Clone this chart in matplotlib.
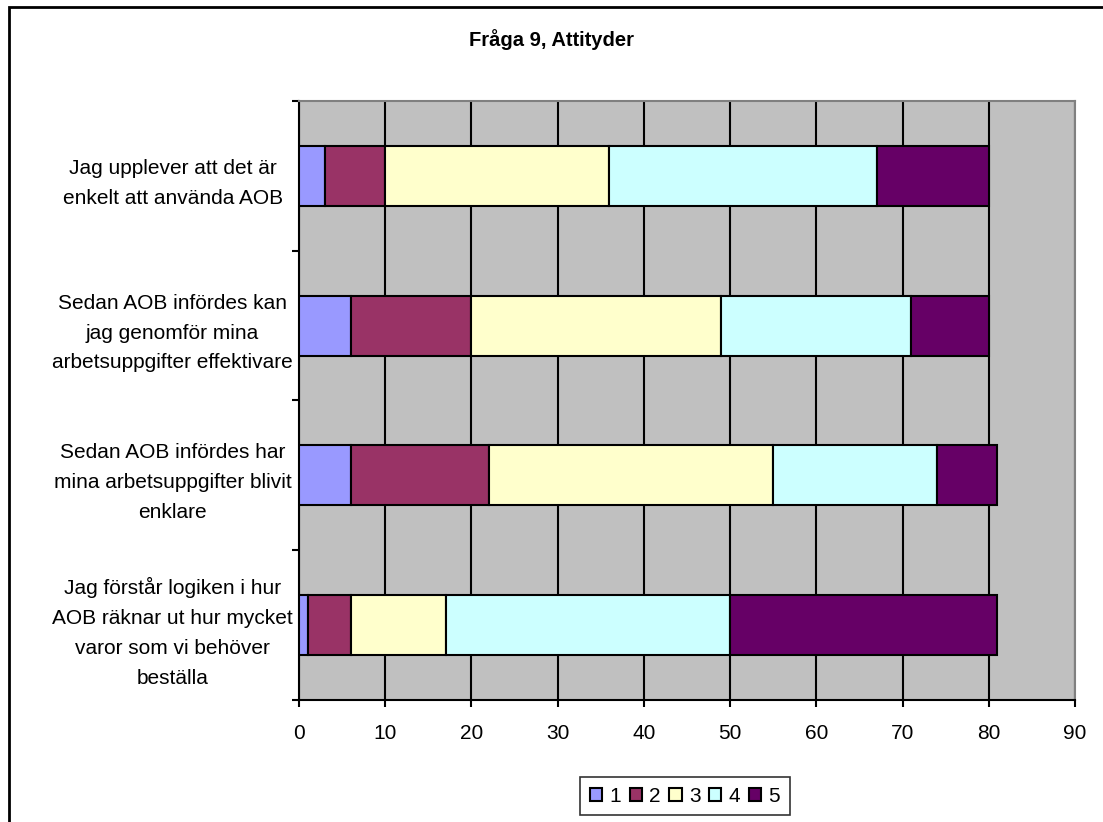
import matplotlib.pyplot as plt
from matplotlib.patches import Rectangle
import numpy as np

plt.rcParams['font.family'] = ['Liberation Sans', 'DejaVu Sans']

categories = [
    'Jag upplever att det är\nenkelt att använda AOB',
    'Sedan AOB infördes kan\njag genomför mina\narbetsuppgifter effektivare',
    'Sedan AOB infördes har\nmina arbetsuppgifter blivit\nenklare',
    'Jag förstår logiken i hur\nAOB räknar ut hur mycket\nvaror som vi behöver\nbeställa',
]
series_names = ['1', '2', '3', '4', '5']
s1 = [3, 6, 6, 1]
s2 = [7, 14, 16, 5]
s3 = [26, 29, 33, 11]
s4 = [31, 22, 19, 33]
s5 = [13, 9, 7, 31]
colors = ['#9999FF', '#993366', '#FFFFCC', '#CCFFFF', '#660066']

fig = plt.figure(figsize=(11.03, 8.22), dpi=100)
ax = fig.add_axes([299 / 1103, 1 - 700 / 822, (1075 - 299) / 1103, (700 - 101) / 822])
ax.set_facecolor('#C0C0C0')

# outer chart frame (right/bottom edges fall outside the canvas)
fig.patches.append(Rectangle((9 / 1103, -0.05), 1.2, 1 - 7 / 822 + 0.05, transform=fig.transFigure,
                             fill=False, edgecolor='black', linewidth=2, zorder=0))

y = np.arange(len(categories))[::-1]
left = np.zeros(len(categories))
for name, vals, c in zip(series_names, [s1, s2, s3, s4, s5], colors):
    ax.barh(y, vals, left=left, height=0.4, color=c, edgecolor='black', linewidth=1.5,
            label=name, zorder=3)
    left += np.array(vals)

ax.set_xlim(0, 90)
ax.set_ylim(-0.5, len(categories) - 0.5)
ax.set_xticks(np.arange(0, 91, 10))
ax.xaxis.grid(True, color='black', linewidth=1.5, zorder=1)
ax.set_axisbelow(True)

ax.set_yticks(np.arange(-0.5, len(categories), 1.0))
ax.set_yticklabels([])
ax.set_yticks(y, minor=True)
ax.set_yticklabels(categories, minor=True, fontsize=15, ha='center', linespacing=1.72)
ax.tick_params(axis='y', which='minor', length=0, pad=91)
ax.tick_params(axis='y', which='major', length=5, width=1.5, direction='out')
ax.tick_params(axis='x', length=5, width=1.5, labelsize=15, pad=12)

for side in ['left', 'bottom']:
    ax.spines[side].set_color('black')
    ax.spines[side].set_linewidth(1.5)
for side in ['top', 'right']:
    ax.spines[side].set_color('#808080')
    ax.spines[side].set_linewidth(1.5)

fig.text(0.5, 1 - 40 / 822, 'Fråga 9, Attityder', ha='center', va='center',
         fontsize=14.5, fontweight='bold')

leg = fig.legend(loc='center', bbox_to_anchor=(685 / 1103, 1 - 796 / 822), ncol=5,
                 fontsize=15, frameon=True, fancybox=False, edgecolor='black',
                 handlelength=0.6, handleheight=0.6, handletextpad=0.35, columnspacing=0.4,
                 borderpad=0.45)
leg.get_frame().set_linewidth(1.2)

fig.savefig('out.png', dpi=100)
